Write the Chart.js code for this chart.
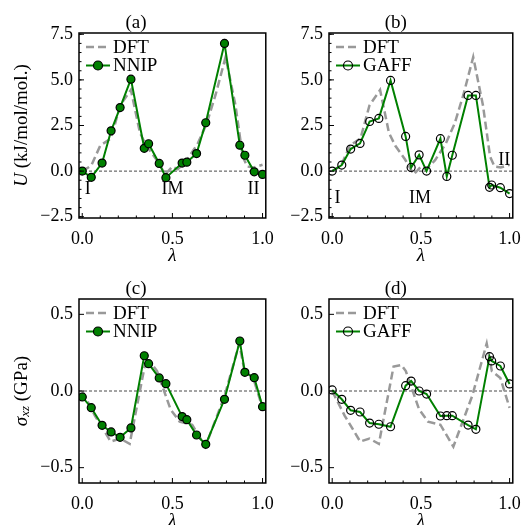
<!DOCTYPE html>
<html>
<head>
<meta charset="utf-8">
<script src="https://cdn.jsdelivr.net/npm/chart.js@4.4.1/dist/chart.umd.min.js"></script>
<style>
  html, body { margin: 0; padding: 0; background: #fff; }
  #fig { position: relative; width: 531px; height: 525px; overflow: hidden; }
  canvas { position: absolute; }
</style>
</head>
<body>
<div id="fig">
  <canvas id="pa" width="284" height="264" style="left:0;top:0"></canvas>
  <canvas id="pb" width="261" height="264" style="left:270px;top:0"></canvas>
  <canvas id="pc" width="284" height="259" style="left:0;top:266px"></canvas>
  <canvas id="pd" width="261" height="259" style="left:270px;top:266px"></canvas>
</div>
<script>
/* data */
const nnipLam = [0, 0.05, 0.11, 0.16, 0.21, 0.27, 0.344, 0.368, 0.427, 0.464, 0.554, 0.58, 0.634, 0.685, 0.789, 0.874, 0.902, 0.954, 1.0];
const nnipU   = [0, -0.34, 0.44, 2.21, 3.48, 5.04, 1.25, 1.5, 0.42, -0.36, 0.44, 0.49, 0.96, 2.65, 7.0, 1.42, 0.87, -0.04, -0.18];
const nnipS   = [-0.039, -0.109, -0.224, -0.267, -0.302, -0.241, 0.23, 0.178, 0.085, 0.048, -0.167, -0.187, -0.287, -0.348, -0.054, 0.326, 0.122, 0.087, -0.102];

const gaffLam = [0, 0.054, 0.104, 0.157, 0.211, 0.263, 0.329, 0.414, 0.445, 0.49, 0.532, 0.61, 0.646, 0.677, 0.766, 0.81, 0.887, 0.899, 0.948, 1.0];
const gaffU   = [0, 0.33, 1.21, 1.52, 2.72, 2.89, 4.97, 1.9, 0.2, 0.89, 0.0, 1.78, -0.29, 0.87, 4.15, 4.15, -0.89, -0.76, -0.91, -1.23];
const gaffS   = [0.007, -0.054, -0.126, -0.137, -0.209, -0.217, -0.233, 0.035, 0.065, 0.0, -0.02, -0.163, -0.161, -0.161, -0.222, -0.25, 0.224, 0.196, 0.163, 0.046];

const dftLamU = [0, 0.05, 0.1, 0.16, 0.21, 0.27, 0.32, 0.355, 0.41, 0.46, 0.5, 0.53, 0.58, 0.64, 0.69, 0.74, 0.795, 0.85, 0.89, 0.915, 0.95, 1.0];
const dftU    = [0, 0.3, 1.4, 1.8, 3.6, 4.45, 2.1, 1.4, 0.65, -0.18, 0.25, 0.1, 0.6, 1.5, 2.6, 4.2, 6.25, 3.6, 0.8, 0.25, 0.2, 0.35];
const dftLamS = [0, 0.07, 0.158, 0.21, 0.263, 0.346, 0.39, 0.415, 0.49, 0.54, 0.61, 0.683, 0.79, 0.871, 0.9, 0.948, 1.0];
const dftS    = [0, -0.16, -0.33, -0.31, -0.345, 0.16, 0.17, 0.13, -0.12, -0.2, -0.22, -0.363, -0.03, 0.31, 0.13, 0.085, -0.11];

const xTicks = [0, 0.5, 1.0];
const uTicks = [-2.5, 0, 2.5, 5.0, 7.5];
const sTicks = [-0.5, 0, 0.5];

const FONT = "'Liberation Serif', 'Times New Roman', serif";
const GREEN = '#008000';
const GREY = '#999999';

function pts(xs, ys) { return xs.map((x, i) => ({x: x, y: ys[i]})); }
function fmt(v) { return (v < 0 ? '\u2212' : '') + Math.abs(v).toFixed(1); }

/* frame, inward ticks, zero line, legend, labels */
const deco = {
    id: 'deco',
    beforeDatasetsDraw(chart, args, o) {
        const {ctx, chartArea: a, scales: {y}} = chart;
        const y0 = y.getPixelForValue(0);
        ctx.save();
        ctx.strokeStyle = '#333';
        ctx.lineWidth = 0.9;
        ctx.setLineDash([3, 2]);
        ctx.beginPath();
        ctx.moveTo(a.left, y0);
        ctx.lineTo(a.right, y0);
        ctx.stroke();
        ctx.restore();
    },
    afterDraw(chart, args, o) {
        const {ctx, chartArea: a, scales: {x, y}} = chart;
        ctx.save();
        ctx.strokeStyle = '#000';
        ctx.lineWidth = 1;
        const line = (x1, y1, x2, y2) => { ctx.beginPath(); ctx.moveTo(x1, y1); ctx.lineTo(x2, y2); ctx.stroke(); };

        /* x ticks: minor every 0.1, major every 0.5 */
        for (let i = 0; i <= 10; i++) {
            const px = x.getPixelForValue(i / 10);
            line(px, a.bottom, px, a.bottom - (i % 5 === 0 ? 5 : 2.5));
        }
        /* y ticks */
        for (const t of y.ticks) {
            const py = y.getPixelForValue(t.value);
            line(a.left, py, a.left + 5, py);
        }
        if (o.yMinor) {
            const [lo, hi, st] = o.yMinor;
            for (let v = lo; v <= hi + 1e-9; v += st) {
                const py = y.getPixelForValue(v);
                line(a.left, py, a.left + 2.5, py);
            }
        }

        /* frame */
        ctx.lineWidth = 1.5;
        ctx.strokeRect(a.left, a.top, a.width, a.height);

        /* legend */
        ctx.textBaseline = 'middle';
        ctx.textAlign = 'left';
        ctx.font = '19px ' + FONT;
        ctx.fillStyle = '#000';
        chart.data.datasets.forEach((ds, i) => {
            const ly = a.top + 14 + i * 18.5;
            const lx = a.left + 7;
            ctx.save();
            ctx.strokeStyle = ds.borderColor;
            ctx.lineWidth = ds.borderWidth;
            ctx.setLineDash(ds.borderDash || []);
            line(lx, ly, lx + 24, ly);
            ctx.restore();
            if (ds.pointRadius > 0) {
                ctx.save();
                ctx.beginPath();
                ctx.arc(lx + 12, ly, ds.pointRadius + 0.5, 0, Math.PI * 2);
                ctx.fillStyle = ds.pointBackgroundColor;
                ctx.fill();
                ctx.strokeStyle = ds.pointBorderColor;
                ctx.lineWidth = ds.pointBorderWidth;
                ctx.stroke();
                ctx.restore();
            }
            ctx.fillText(ds.label, lx + 27, ly + 1);
        });

        /* state labels */
        ctx.textAlign = 'center';
        ctx.font = '18px ' + FONT;
        (o.notes || []).forEach(n => {
            ctx.fillText(n[0], x.getPixelForValue(n[1]), y.getPixelForValue(n[2]));
        });

        /* axis titles */
        ctx.font = 'italic 19px ' + FONT;
        ctx.fillText('\u03bb', (a.left + a.right) / 2, a.bottom + 38);

        if (o.yLabel) {
            ctx.translate(22, (a.top + a.bottom) / 2);
            ctx.rotate(-Math.PI / 2);
            const segs = o.yLabel;
            let w = 0;
            segs.forEach(s => { ctx.font = s[1] + ' ' + s[2] + 'px ' + FONT; w += ctx.measureText(s[0]).width; });
            let cx = -w / 2;
            ctx.textAlign = 'left';
            segs.forEach(s => {
                ctx.font = s[1] + ' ' + s[2] + 'px ' + FONT;
                ctx.fillText(s[0], cx, s[3] || 0);
                cx += ctx.measureText(s[0]).width;
            });
        }
        ctx.restore();
    }
};

function panel(id, cfg) {
    const filled = cfg.model === 'NNIP';
    return new Chart(document.getElementById(id), {
        type: 'line',
        data: {
            datasets: [
                {
                    label: 'DFT', data: cfg.dft, order: 2,
                    borderColor: GREY, borderWidth: 2.5, borderDash: [8, 4],
                    pointRadius: 0, fill: false, tension: 0
                },
                {
                    label: cfg.model, data: cfg.series, order: 1,
                    borderColor: GREEN, borderWidth: 2,
                    pointRadius: 4, pointBorderWidth: 1.2, pointBorderColor: '#000',
                    pointBackgroundColor: filled ? GREEN : 'rgba(0,0,0,0)',
                    fill: false, tension: 0
                }
            ]
        },
        options: {
            responsive: false,
            animation: false,
            events: [],
            layout: { padding: { left: 0, right: cfg.padRight, top: 0, bottom: 0 } },
            plugins: {
                legend: { display: false },
                tooltip: { enabled: false },
                title: {
                    display: true, text: cfg.title, color: '#000',
                    font: { family: FONT, size: 19, weight: 'normal', lineHeight: 1 },
                    padding: { top: 14, bottom: 0 }
                },
                deco: { yMinor: cfg.yMinor, notes: cfg.notes, yLabel: cfg.yLabel }
            },
            scales: {
                x: {
                    type: 'linear', min: -0.018, max: 1.018,
                    afterBuildTicks: s => { s.ticks = xTicks.map(v => ({value: v})); },
                    afterFit: s => { s.height = cfg.xHeight; },
                    grid: { display: false, drawTicks: false },
                    border: { display: false },
                    ticks: {
                        color: '#000', padding: 10, maxRotation: 0, autoSkip: false,
                        font: { family: FONT, size: 18 },
                        callback: v => fmt(v)
                    }
                },
                y: {
                    type: 'linear', min: cfg.yMin, max: cfg.yMax,
                    afterBuildTicks: s => { s.ticks = cfg.yTicks.map(v => ({value: v})); },
                    afterFit: s => { s.width = cfg.yWidth; },
                    grid: { display: false, drawTicks: false },
                    border: { display: false },
                    ticks: {
                        color: '#000', padding: 6, autoSkip: false,
                        font: { family: FONT, size: 18 },
                        callback: v => fmt(v)
                    }
                }
            }
        },
        plugins: [deco]
    });
}

const uLabel = [['U', 'italic', 19], [' (kJ/mol/mol.)', 'normal', 19]];
const sLabel = [['\u03c3', 'italic', 19], ['xz', 'italic', 13, 4], [' (GPa)', 'normal', 19]];

panel('pa', {
    title: '(a)', model: 'NNIP', dft: pts(dftLamU, dftU), series: pts(nnipLam, nnipU),
    yMin: -2.57, yMax: 7.57, yTicks: uTicks, yMinor: [-2.5, 7.5, 0.5],
    yWidth: 79, padRight: 12, xHeight: 46, yLabel: uLabel,
    notes: [['I', 0.03, -1.0], ['IM', 0.5, -1.0], ['II', 0.95, -1.0]]
});
panel('pb', {
    title: '(b)', model: 'GAFF', dft: pts(dftLamU, dftU), series: pts(gaffLam, gaffU),
    yMin: -2.57, yMax: 7.57, yTicks: uTicks, yMinor: [-2.5, 7.5, 0.5],
    yWidth: 59, padRight: 9.3, xHeight: 46, yLabel: null,
    notes: [['I', 0.03, -1.5], ['IM', 0.495, -1.5], ['II', 0.97, 0.6]]
});
panel('pc', {
    title: '(c)', model: 'NNIP', dft: pts(dftLamS, dftS), series: pts(nnipLam, nnipS),
    yMin: -0.6, yMax: 0.6, yTicks: sTicks, yMinor: null,
    yWidth: 79, padRight: 12, xHeight: 42, yLabel: sLabel, notes: []
});
panel('pd', {
    title: '(d)', model: 'GAFF', dft: pts(dftLamS, dftS), series: pts(gaffLam, gaffS),
    yMin: -0.6, yMax: 0.6, yTicks: sTicks, yMinor: null,
    yWidth: 59, padRight: 9.3, xHeight: 42, yLabel: null, notes: []
});
</script>
</body>
</html>
